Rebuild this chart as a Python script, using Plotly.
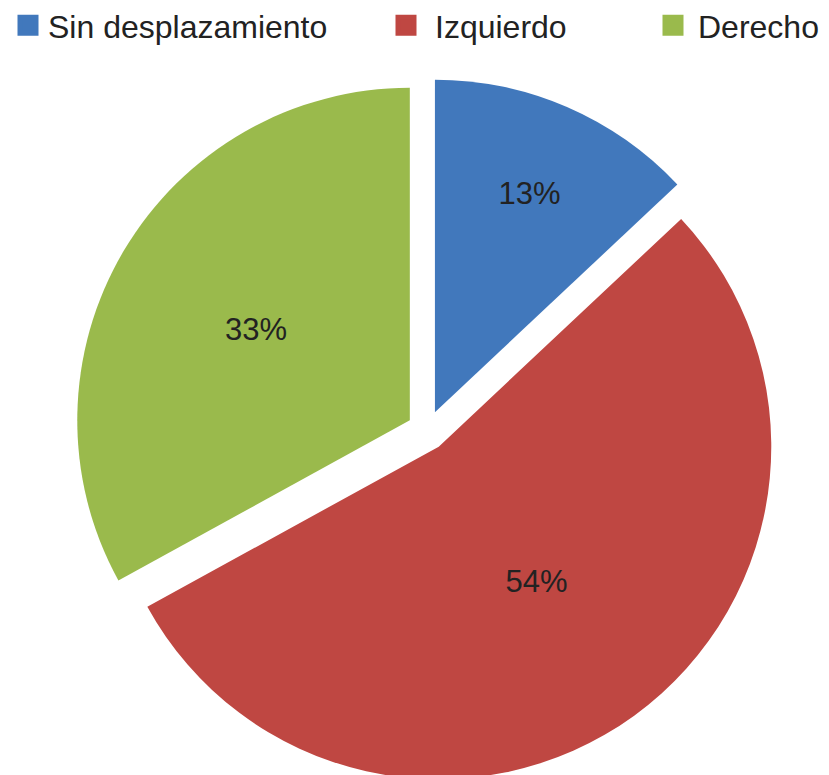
import plotly.graph_objects as go

categorias = ["Sin desplazamiento", "Izquierdo", "Derecho"]
porcentajes = [13, 54, 33]
colores = ["#4178BC", "#BF4742", "#9ABA4C"]

fuente = "Liberation Sans, Arial, sans-serif"
izq, der, arriba, abajo = 63, 54, 70, 0
ancho = 829 - izq - der
alto = 775 - arriba - abajo

fig = go.Figure()

fig.add_trace(go.Pie(
    labels=categorias,
    values=porcentajes,
    sort=False,
    direction="clockwise",
    rotation=0,
    pull=[0.06, 0.06, 0.06],
    marker=dict(colors=colores, line=dict(width=0)),
    texttemplate="%{value}%",
    textposition="inside",
    insidetextorientation="horizontal",
    textfont=dict(family=fuente, size=31, color="#222222"),
    hoverinfo="label+percent",
    showlegend=False,
))

# legend entries, one legend per category so they can sit where the original puts them
leyendas = ["legend", "legend2", "legend3"]
for nombre, color, ley in zip(categorias, colores, leyendas):
    fig.add_trace(go.Scatter(
        x=[None], y=[None],
        mode="markers",
        name=nombre,
        marker=dict(symbol="square", size=30, color=color, line=dict(width=5, color=color)),
        legend=ley,
        hoverinfo="skip",
    ))

pos_leyenda = {"legend": (0, 30), "legend2": (369, 48), "legend3": (640, 40)}
for ley, (px_x, w) in pos_leyenda.items():
    fig.update_layout({ley: dict(
        orientation="h",
        x=(px_x - izq) / ancho,
        xanchor="left",
        y=1 + 80 / alto,
        yanchor="top",
        font=dict(size=32, family=fuente, color="#222222"),
        itemwidth=w,
        itemsizing="trace",
        bgcolor="rgba(0,0,0,0)",
    )})

fig.update_layout(
    width=829,
    height=775,
    margin=dict(l=izq, r=der, t=arriba, b=abajo, autoexpand=False),
    paper_bgcolor="white",
    plot_bgcolor="white",
    font=dict(family=fuente, color="#222222"),
    xaxis=dict(visible=False),
    yaxis=dict(visible=False),
)

fig.write_html("out.html")
